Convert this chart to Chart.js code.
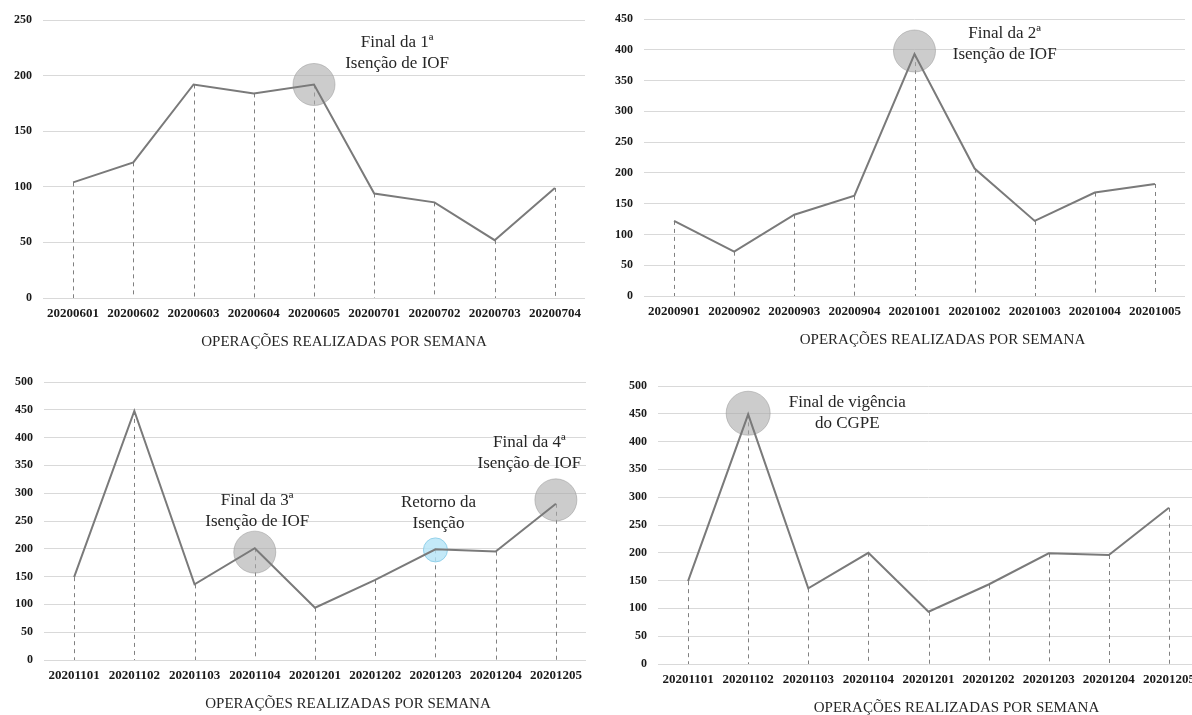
<!DOCTYPE html>
<html>
<head>
<meta charset="utf-8">
<script src="https://cdn.jsdelivr.net/npm/chart.js@4.4.1/dist/chart.umd.min.js"></script>
<style>
    html, body { margin: 0; padding: 0; background: #fff; }
    body { width: 1192px; height: 715px; overflow: hidden; position: relative; }
    canvas { position: absolute; }
</style>
</head>
<body>
<canvas id="chart1" width="596" height="360" style="left:0;top:0"></canvas>
<canvas id="chart2" width="596" height="360" style="left:596px;top:0"></canvas>
<canvas id="chart3" width="596" height="355" style="left:0;top:360px"></canvas>
<canvas id="chart4" width="620" height="355" style="left:596px;top:360px"></canvas>
<script>
Chart.defaults.font.family = '"Liberation Serif", "Times New Roman", serif';
Chart.defaults.color = '#262626';

// semanas e operações
const weeks1 = ['20200601', '20200602', '20200603', '20200604', '20200605', '20200701', '20200702', '20200703', '20200704'];
const ops1 = [104, 122, 192, 184, 192, 94, 86, 52, 99];

const weeks2 = ['20200901', '20200902', '20200903', '20200904', '20201001', '20201002', '20201003', '20201004', '20201005'];
const ops2 = [122, 72, 132, 163, 393, 207, 122, 168, 182];

const weeks3 = ['20201101', '20201102', '20201103', '20201104', '20201201', '20201202', '20201203', '20201204', '20201205'];
const ops3 = [149, 448, 136, 201, 94, 144, 199, 195, 281];
const ops4 = [149, 449, 136, 200, 94, 143, 199, 196, 281];

// eixo y
const yMax = [250, 450, 500, 500];
const yStep = 50;

// círculos de destaque (centro em unidades do eixo y)
const marks1 = [null, null, null, null, 192, null, null, null, null];
const marks2 = [null, null, null, null, 398, null, null, null, null];
const marks3 = [null, null, null, 194, null, null, 198, null, 288];
const marks4 = [null, 451, null, null, null, null, null, null, null];

const caption = 'OPERAÇÕES REALIZADAS POR SEMANA';

const GRAY = 'rgba(170, 170, 170, 0.6)';
const BLUE = 'rgba(180, 228, 246, 0.8)';

// linhas tracejadas do ponto até o eixo
const dropLines = {
    id: 'dropLines',
    beforeDatasetsDraw(chart) {
        const { ctx, chartArea } = chart;
        ctx.save();
        ctx.strokeStyle = '#808080';
        ctx.lineWidth = 1;
        ctx.setLineDash([4, 4]);
        chart.getDatasetMeta(0).data.forEach(pt => {
            const x = Math.round(pt.x) + 0.5;
            ctx.beginPath();
            ctx.moveTo(x, pt.y);
            ctx.lineTo(x, chartArea.bottom);
            ctx.stroke();
        });
        ctx.restore();
    }
};

// textos das anotações e legenda do eixo
const notes = {
    id: 'notes',
    afterDraw(chart, args, opts) {
        const { ctx, chartArea, scales } = chart;
        ctx.save();
        ctx.textAlign = 'center';
        ctx.textBaseline = 'middle';
        ctx.fillStyle = '#262626';
        ctx.font = '17px "Liberation Serif", serif';
        (opts.items || []).forEach(item => {
            const x = scales.x.getPixelForValue(item.x);
            const y = scales.y.getPixelForValue(item.y);
            item.lines.forEach((t, i) => ctx.fillText(t, x, y + i * 21));
        });
        ctx.font = '15px "Liberation Serif", serif';
        ctx.fillText(caption, (chartArea.left + chartArea.right) / 2 + opts.dx, chartArea.bottom + 44);
        ctx.restore();
    }
};

function makeChart(id, labels, values, marks, markColors, markSizes, max, box, items, dx) {
    const canvas = document.querySelector(id);
    const W = canvas.width, H = canvas.height;
    return new Chart(canvas, {
        type: 'line',
        data: {
            labels: labels,
            datasets: [
                {
                    data: values,
                    borderColor: '#7a7a7a',
                    borderWidth: 2,
                    pointRadius: 0,
                    tension: 0,
                },
                {
                    data: marks,
                    showLine: false,
                    pointRadius: markSizes,
                    pointBackgroundColor: markColors,
                    pointBorderColor: markColors.map(c => c === BLUE ? 'rgba(140, 205, 232, 0.9)' : 'rgba(150, 150, 150, 0.5)'),
                    pointBorderWidth: 1,
                    clip: false,
                },
            ],
        },
        options: {
            responsive: false,
            animation: false,
            layout: {
                autoPadding: false,
                padding: { left: 0, top: box.top, right: W - box.right, bottom: 0 },
            },
            scales: {
                x: {
                    offset: true,
                    grid: { display: false, drawTicks: false },
                    border: { display: false },
                    ticks: {
                        autoSkip: false,
                        maxRotation: 0,
                        padding: 8,
                        color: '#1a1a1a',
                        font: { size: 13, weight: 'bold' },
                    },
                    afterFit: s => { s.height = H - box.bottom; },
                },
                y: {
                    min: 0,
                    max: max,
                    ticks: {
                        stepSize: yStep,
                        padding: 11,
                        color: '#1a1a1a',
                        font: { size: 12, weight: 'bold' },
                    },
                    grid: { color: '#d9d9d9', drawTicks: false },
                    border: { display: false },
                    afterFit: s => { s.width = box.left; },
                },
            },
            plugins: {
                legend: { display: false },
                tooltip: { enabled: false },
                notes: { items: items, dx: dx },
            },
        },
        plugins: [dropLines, notes],
    });
}

const fill9 = (c) => Array(9).fill(c);

// CHART - 1
const chart1 = makeChart('#chart1', weeks1, ops1, marks1, fill9(GRAY), fill9(21), yMax[0],
    { left: 43, right: 585, top: 20, bottom: 298 },
    [{ x: 5.38, y: 230, lines: ['Final da 1ª', 'Isenção de IOF'] }], 30);

// CHART - 2
const chart2 = makeChart('#chart2', weeks2, ops2, marks2, fill9(GRAY), fill9(21), yMax[1],
    { left: 48, right: 589, top: 19, bottom: 296 },
    [{ x: 5.5, y: 427, lines: ['Final da 2ª', 'Isenção de IOF'] }], 28);

// CHART - 3
const colors3 = fill9(GRAY);
colors3[6] = BLUE;
const sizes3 = fill9(21);
sizes3[6] = 12;
const chart3 = makeChart('#chart3', weeks3, ops3, marks3, colors3, sizes3, yMax[2],
    { left: 44, right: 586, top: 22, bottom: 300 },
    [
        { x: 3.04, y: 286, lines: ['Final da 3ª', 'Isenção de IOF'] },
        { x: 6.05, y: 284, lines: ['Retorno da', 'Isenção'] },
        { x: 7.56, y: 392, lines: ['Final da 4ª', 'Isenção de IOF'] },
    ], 33);

// CHART - 4
const chart4 = makeChart('#chart4', weeks3, ops4, marks4, fill9(GRAY), fill9(22), yMax[3],
    { left: 62, right: 603, top: 26, bottom: 304 },
    [{ x: 2.65, y: 470, lines: ['Final de vigência', 'do CGPE'] }], 28);
</script>
</body>
</html>
